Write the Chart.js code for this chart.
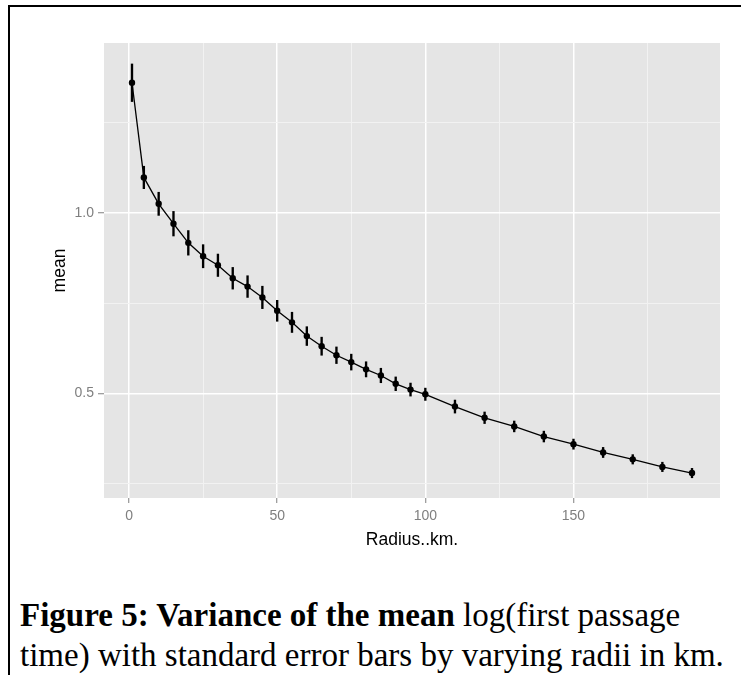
<!DOCTYPE html>
<html>
<head>
<meta charset="utf-8">
<script src="https://cdn.jsdelivr.net/npm/chart.js@4"></script>
<style>
  body { margin: 0; background: #fff; width: 741px; height: 675px; overflow: hidden; position: relative; }
  #frameTop { position: absolute; left: 8px; top: 5px; width: 733px; height: 2px; background: #000; }
  #frameLeft { position: absolute; left: 8px; top: 5px; width: 2px; height: 670px; background: #000; }
  #plot { position: absolute; left: 0; top: 0; }
  #caption {
    position: absolute; left: 20px; top: 595px;
    font-family: "Liberation Serif", "Times New Roman", serif;
    font-size: 33px; line-height: 40px; color: #000; white-space: nowrap;
  }
</style>
</head>
<body>
<div id="frameTop"></div>
<div id="frameLeft"></div>
<canvas id="plot" width="741" height="551"></canvas>
<div id="caption"><b>Figure 5: Variance of the mean</b> log(first passage<br>time) with standard error bars by varying radii in km.</div>
<script>
// Data
const radius = [1, 5, 10, 15, 20, 25, 30, 35, 40, 45, 50, 55, 60, 65, 70, 75, 80, 85, 90, 95, 100,
                110, 120, 130, 140, 150, 160, 170, 180, 190];
const meanValues = [1.360, 1.098, 1.025, 0.970, 0.917, 0.880, 0.855, 0.819, 0.796, 0.766, 0.729,
                    0.697, 0.659, 0.631, 0.606, 0.587, 0.567, 0.550, 0.527, 0.511, 0.498,
                    0.464, 0.433, 0.409, 0.381, 0.360, 0.337, 0.318, 0.297, 0.280];
const seValues = [0.052, 0.031, 0.032, 0.034, 0.034, 0.032, 0.031, 0.030, 0.030, 0.031, 0.029,
                  0.028, 0.026, 0.025, 0.023, 0.022, 0.021, 0.020, 0.019, 0.018, 0.017,
                  0.018, 0.016, 0.015, 0.015, 0.014, 0.014, 0.013, 0.013, 0.013];

const xMajorTicks = [0, 50, 100, 150];
const xMinorTicks = [25, 75, 125, 175];
const xTickLabels = ['0', '50', '100', '150'];
const yMajorTicks = [0.5, 1.0];
const yMinorTicks = [0.25, 0.75, 1.25];
const yTickLabels = ['0.5', '1.0'];

const panelGrey = '#E5E5E5';
const tickGrey = '#7F7F7F';

// grey panel behind the grid
const panelBg = {
  id: 'panelBg',
  beforeDraw(chart) {
    const a = chart.chartArea;
    const ctx = chart.ctx;
    ctx.save();
    ctx.fillStyle = panelGrey;
    ctx.fillRect(a.left, a.top, a.right - a.left, a.bottom - a.top);
    ctx.restore();
  }
};

function isMajor(list, v) {
  return list.some(m => Math.abs(m - v) < 1e-9);
}
function tickIsMajor(list, c) {
  return !!(c && c.tick && isMajor(list, c.tick.value));
}

const linePoints = radius.map((r, i) => ({ x: r, y: meanValues[i] }));
const errBars = radius.map((r, i) => ({ x: r, y: [meanValues[i] - seValues[i], meanValues[i] + seValues[i]] }));

new Chart(document.getElementById('plot'), {
  type: 'line',
  data: {
    datasets: [
      {
        label: 'mean',
        data: linePoints,
        borderColor: '#000',
        borderWidth: 1.3,
        pointRadius: 3.2,
        pointBackgroundColor: '#000',
        pointBorderWidth: 0,
        tension: 0
      },
      {
        type: 'bar',
        label: 'se',
        data: errBars,
        backgroundColor: '#000',
        borderWidth: 0,
        barThickness: 1.7,
        grouped: false
      }
    ]
  },
  options: {
    responsive: false,
    animation: false,
    layout: { padding: { left: 50, top: 43, right: 21, bottom: 0 } },
    plugins: { legend: { display: false }, tooltip: { enabled: false } },
    scales: {
      x: {
        type: 'linear',
        min: -8.45,
        max: 199.45,
        offset: false,
        afterBuildTicks: s => { s.ticks = xMajorTicks.concat(xMinorTicks).sort((a, b) => a - b).map(v => ({ value: v })); },
        afterFit: s => { s.height = 53; },
        border: { display: false },
        grid: {
          offset: false,
          color: c => tickIsMajor(xMajorTicks, c) ? '#FFFFFF' : '#F2F2F2',
          lineWidth: c => tickIsMajor(xMajorTicks, c) ? 1.5 : 1,
          tickColor: c => tickIsMajor(xMajorTicks, c) ? tickGrey : 'rgba(0,0,0,0)',
          tickLength: 5,
          tickWidth: 1
        },
        ticks: {
          color: tickGrey,
          font: { family: 'Liberation Sans', size: 14 },
          padding: 5,
          maxRotation: 0,
          autoSkip: false,
          callback: v => {
            const k = xMajorTicks.findIndex(m => Math.abs(m - v) < 1e-9);
            return k >= 0 ? xTickLabels[k] : '';
          }
        },
        title: {
          display: true,
          text: 'Radius..km.',
          color: '#000',
          font: { family: 'Liberation Sans', size: 17.5 },
          padding: 0
        }
      },
      y: {
        type: 'linear',
        min: 0.211,
        max: 1.470,
        afterBuildTicks: s => { s.ticks = yMinorTicks.concat(yMajorTicks).sort((a, b) => a - b).map(v => ({ value: v })); },
        afterFit: s => { s.width = 54; },
        border: { display: false },
        grid: {
          offset: false,
          color: c => tickIsMajor(yMajorTicks, c) ? '#FFFFFF' : '#F2F2F2',
          lineWidth: c => tickIsMajor(yMajorTicks, c) ? 1.5 : 1,
          tickColor: c => tickIsMajor(yMajorTicks, c) ? tickGrey : 'rgba(0,0,0,0)',
          tickLength: 6,
          tickWidth: 1
        },
        ticks: {
          color: tickGrey,
          font: { family: 'Liberation Sans', size: 14 },
          padding: 4,
          autoSkip: false,
          callback: v => {
            const k = yMajorTicks.findIndex(m => Math.abs(m - v) < 1e-9);
            return k >= 0 ? yTickLabels[k] : '';
          }
        },
        title: {
          display: true,
          text: 'mean',
          color: '#000',
          font: { family: 'Liberation Sans', size: 17.5 },
          padding: 0
        }
      }
    }
  },
  plugins: [panelBg]
});
</script>
</body>
</html>
